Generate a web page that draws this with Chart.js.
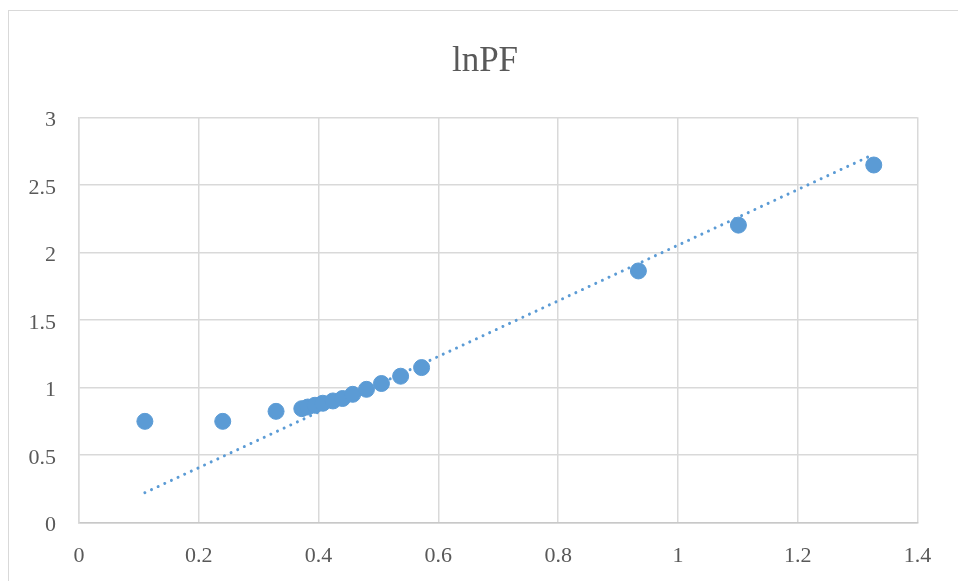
<!DOCTYPE html>
<html>
<head>
<meta charset="utf-8">
<script src="https://cdn.jsdelivr.net/npm/chart.js@4"></script>
<style>
  html, body { margin: 0; padding: 0; background: #fff; overflow: hidden; }
  #frame {
    position: absolute; left: 8px; top: 10px;
    width: 1000px; height: 700px;
    border: 1px solid #d9d9d9; box-sizing: border-box;
  }
  #chart { position: absolute; left: 0; top: 0; }
</style>
</head>
<body>
<div id="frame"></div>
<canvas id="chart" width="958" height="581"></canvas>
<script>
// Values
const xValues = [0.110, 0.240, 0.329, 0.372, 0.382, 0.394, 0.407, 0.424, 0.440,
                 0.457, 0.480, 0.505, 0.537, 0.572, 0.934, 1.101, 1.327];
const yValues = [0.750, 0.750, 0.824, 0.844, 0.856, 0.869, 0.884, 0.901, 0.919,
                 0.950, 0.987, 1.030, 1.084, 1.148, 1.863, 2.202, 2.647];

// dotted trendline ends as drawn
const trendX = [0.110, 1.322];
const trendY = [0.222, 2.716];

const xTickLabels = ["0", "0.2", "0.4", "0.6", "0.8", "1", "1.2", "1.4"];
const yTickLabels = ["0", "0.5", "1", "1.5", "2", "2.5", "3"];

const blue = "#5b9bd5";
const textColor = "#595959";
const font = "'Liberation Serif', 'DejaVu Serif', serif";

const points = xValues.map((x, i) => ({ x: x, y: yValues[i] }));
const trend = trendX.map((x, i) => ({ x: x, y: trendY[i] }));

new Chart(document.getElementById("chart"), {
  type: "scatter",
  data: {
    datasets: [
      {
        label: "lnPF",
        data: points,
        backgroundColor: blue,
        borderColor: blue,
        pointRadius: 8,
        pointHoverRadius: 8,
        order: 1
      },
      {
        label: "trend",
        data: trend,
        showLine: true,
        pointRadius: 0,
        borderColor: blue,
        borderWidth: 3,
        borderDash: [0.01, 7.3],
        borderCapStyle: "round",
        fill: false,
        order: 2
      }
    ]
  },
  options: {
    responsive: false,
    animation: false,
    // left padding keeps the title centred on the whole frame
    layout: { padding: { left: 12, right: 0, top: 0, bottom: 0 } },
    plugins: {
      legend: { display: false },
      tooltip: { enabled: false },
      title: {
        display: true,
        text: "lnPF",
        color: textColor,
        font: { family: font, size: 35, weight: "normal", lineHeight: 1.2 },
        padding: { top: 40.5, bottom: 34.8 }
      }
    },
    scales: {
      x: {
        type: "linear",
        min: 0,
        max: 1.4,
        ticks: {
          stepSize: 0.2,
          color: textColor,
          font: { family: font, size: 22 },
          padding: 20,
          maxRotation: 0,
          callback: (v, i) => xTickLabels[i]
        },
        grid: { color: "#d9d9d9", lineWidth: 1.5, drawTicks: false },
        border: { color: "#c8c8c8", width: 1.5 },
        afterFit: s => { s.height = 58.3; }
      },
      y: {
        type: "linear",
        min: 0,
        max: 3,
        ticks: {
          stepSize: 0.5,
          color: textColor,
          font: { family: font, size: 22 },
          padding: 23,
          labelOffset: 3,
          callback: (v, i) => yTickLabels[i]
        },
        grid: { color: "#d9d9d9", lineWidth: 1.5, drawTicks: false },
        border: { color: "#d9d9d9", width: 1.5 },
        afterFit: s => { s.width = 67; }
      },
      // empty right-hand axis, only to leave the gap on the right
      yRight: {
        type: "linear",
        position: "right",
        min: 0,
        max: 3,
        ticks: { display: false },
        grid: { display: false },
        border: { display: false },
        afterFit: s => { s.width = 40.5; }
      }
    }
  }
});
</script>
</body>
</html>
